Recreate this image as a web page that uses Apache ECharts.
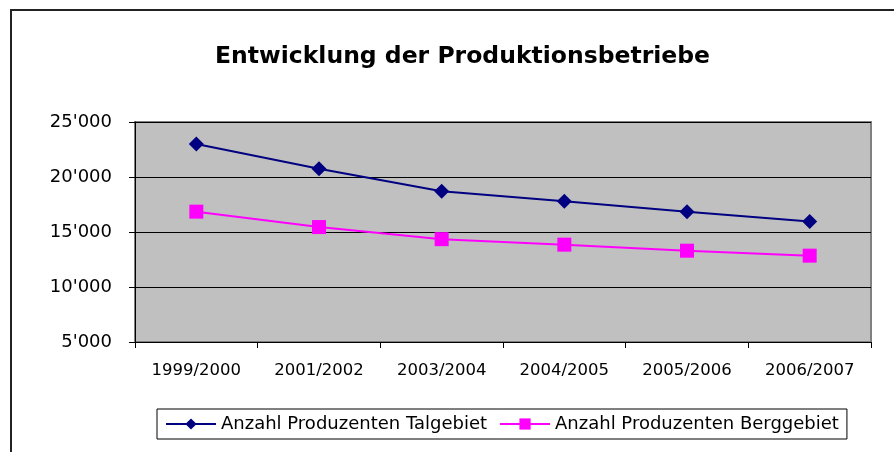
<!DOCTYPE html>
<html>
<head>
<meta charset="utf-8">
<script src="https://cdn.jsdelivr.net/npm/echarts@6/dist/echarts.min.js"></script>
<style>
  html, body { margin: 0; padding: 0; background: #fff; }
  #chart { width: 894px; height: 452px; }
</style>
</head>
<body>
<div id="chart"></div>
<script>
// Daten
var jahre = ['1999/2000', '2001/2002', '2003/2004', '2004/2005', '2005/2006', '2006/2007'];
var talgebiet = [23000, 20750, 18700, 17800, 16850, 15950];
var berggebiet = [16850, 15450, 14350, 13850, 13300, 12850];

var chart = echarts.init(document.getElementById('chart'));
chart.setOption({
    animation: false,
    textStyle: { fontFamily: 'DejaVu Sans, sans-serif' },
    graphic: [{
        type: 'rect',
        shape: { x: 11, y: 10, width: 1000, height: 600 },
        style: { fill: 'none', stroke: '#222', lineWidth: 2 },
        silent: true
    }],
    title: {
        text: 'Entwicklung der Produktionsbetriebe',
        left: 210,
        top: 40,
        textStyle: { fontSize: 23.5, fontWeight: 'bold', color: '#000', fontFamily: 'DejaVu Sans' }
    },
    legend: {
        bottom: 13,
        left: 157,
        data: ['Anzahl Produzenten Talgebiet', 'Anzahl Produzenten Berggebiet'],
        borderColor: '#000',
        borderWidth: 1,
        padding: [6, 8],
        itemGap: 12,
        itemWidth: 50,
        itemHeight: 14,
        textStyle: { fontSize: 18, color: '#000', fontFamily: 'DejaVu Sans' }
    },
    grid: {
        left: 135,
        right: 23,
        top: 122,
        bottom: 110,
        show: true,
        backgroundColor: '#c0c0c0',
        borderColor: '#808080',
        borderWidth: 2
    },
    xAxis: {
        type: 'category',
        data: jahre,
        boundaryGap: true,
        axisLine: { lineStyle: { color: '#000', width: 1 } },
        axisTick: { show: true, length: 6, lineStyle: { color: '#000' } },
        axisLabel: { fontSize: 16.5, color: '#000', margin: 20, fontFamily: 'DejaVu Sans' }
    },
    yAxis: {
        type: 'value',
        min: 5000,
        max: 25000,
        interval: 5000,
        axisLine: { show: true, lineStyle: { color: '#000', width: 1 } },
        axisTick: { show: true, length: 6, lineStyle: { color: '#000' } },
        splitLine: { lineStyle: { color: '#000', width: 1 } },
        axisLabel: {
            fontSize: 18,
            color: '#000',
            margin: 23,
            fontFamily: 'DejaVu Sans',
            formatter: function (v) {
                var s = String(v);
                return s.slice(0, s.length - 3) + "'" + s.slice(-3);
            }
        }
    },
    series: [{
        name: 'Anzahl Produzenten Talgebiet',
        type: 'line',
        data: talgebiet,
        symbol: 'diamond',
        symbolSize: 15,
        itemStyle: { color: '#000080' },
        lineStyle: { color: '#000080', width: 2 }
    }, {
        name: 'Anzahl Produzenten Berggebiet',
        type: 'line',
        data: berggebiet,
        symbol: 'rect',
        symbolSize: 14,
        itemStyle: { color: '#ff00ff' },
        lineStyle: { color: '#ff00ff', width: 2 }
    }]
});
</script>
</body>
</html>
